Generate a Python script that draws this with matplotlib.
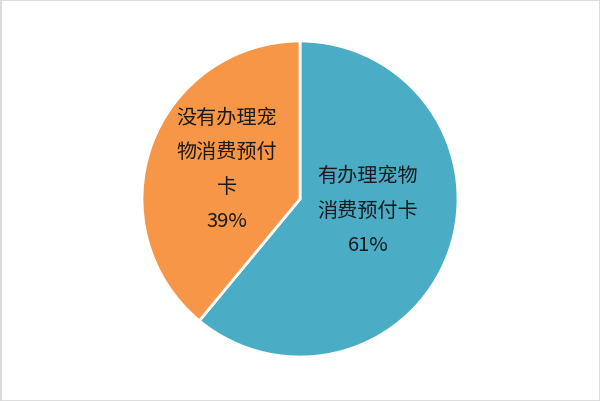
import matplotlib
matplotlib.use("Agg")
import matplotlib.pyplot as plt
from matplotlib.patches import Rectangle

plt.rcParams['font.family'] = ['Noto Sans CJK SC', 'DejaVu Sans']

categories = ['有办理宠物\n消费预付卡', '没有办理宠\n物消费预付\n卡']
values = [61, 39]
colors = ['#4BACC6', '#F79646']

fig = plt.figure(figsize=(6, 4.02), dpi=100)
ax = fig.add_axes([0, 0, 1, 1])

wedges, _ = ax.pie(values, colors=colors, startangle=90, counterclock=False,
                   center=(300, 202), radius=158,
                   wedgeprops=dict(edgecolor='white', linewidth=2))
ax.set_xlim(0, 600)
ax.set_ylim(0, 402)
ax.set_aspect('equal')
ax.axis('off')

label_pos = [(368, 191), (227, 232)]
for cat, v, (x, y) in zip(categories, values, label_pos):
    ax.text(x, y, f"{cat}\n{v}%", ha='center', va='center', fontsize=14.5,
            color='#1a1a1a', linespacing=1.83)

fig.patches.append(Rectangle((0, 0), 1, 1, transform=fig.transFigure,
                             fill=False, edgecolor='#d9d9d9', linewidth=2))

fig.savefig('out.png', dpi=100)
